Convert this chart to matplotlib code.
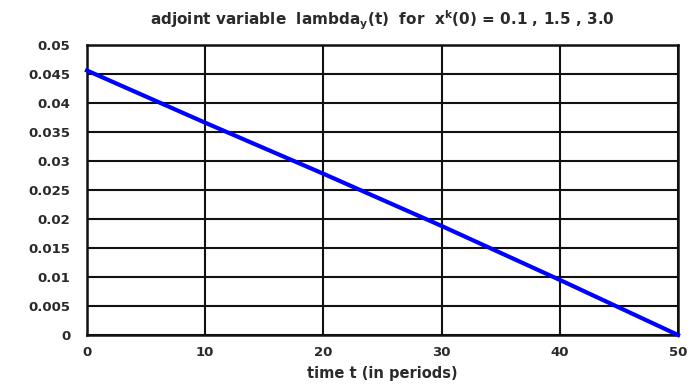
import matplotlib
matplotlib.use("Agg")
import matplotlib.pyplot as plt

plt.rcParams['font.family'] = ['DejaVu Sans']
plt.rcParams['font.weight'] = 'bold'
plt.rcParams['axes.titleweight'] = 'bold'
plt.rcParams['axes.labelweight'] = 'bold'
plt.rcParams['mathtext.fontset'] = 'custom'
plt.rcParams['mathtext.rm'] = 'DejaVu Sans:bold'

# adjoint variable over time
t = [0, 10, 20, 30, 40, 50]
lam_y = [0.0456, 0.0366, 0.0278, 0.0188, 0.0095, 0.0]

x_ticks = [0, 10, 20, 30, 40, 50]
y_ticks = [0, 0.005, 0.01, 0.015, 0.02, 0.025, 0.03, 0.035, 0.04, 0.045, 0.05]
y_labels = ['0', '0.005', '0.01', '0.015', '0.02', '0.025', '0.03', '0.035', '0.04', '0.045', '0.05']

fig = plt.figure(figsize=(6.96, 3.87), dpi=100)
ax = fig.add_axes([87 / 696, 52 / 387, 591 / 696, 290 / 387])

ax.plot(t, lam_y, color='#0000ff', linewidth=3, zorder=3, clip_on=False)

ax.set_xlim(0, 50)
ax.set_ylim(0, 0.05)
ax.set_xticks(x_ticks)
ax.set_yticks(y_ticks)
ax.set_yticklabels(y_labels)
ax.tick_params(length=0, labelsize=9.5, colors='#2a2a2a')
ax.tick_params(axis='y', pad=12)
ax.tick_params(axis='x', pad=8)
ax.grid(True, color='#111111', linewidth=1.5)
for s in ax.spines.values():
    s.set_linewidth(1.8)
    s.set_color('#111111')

ax.set_xlabel('time t (in periods)', fontsize=10.5, labelpad=5, color='#2a2a2a')
ax.set_title(r'adjoint variable  lambda$_\mathrm{y}$(t)  for  x$^\mathrm{k}$(0) = 0.1 , 1.5 , 3.0',
             fontsize=11, pad=14, color='#2a2a2a')

fig.savefig('out.png', dpi=100)
